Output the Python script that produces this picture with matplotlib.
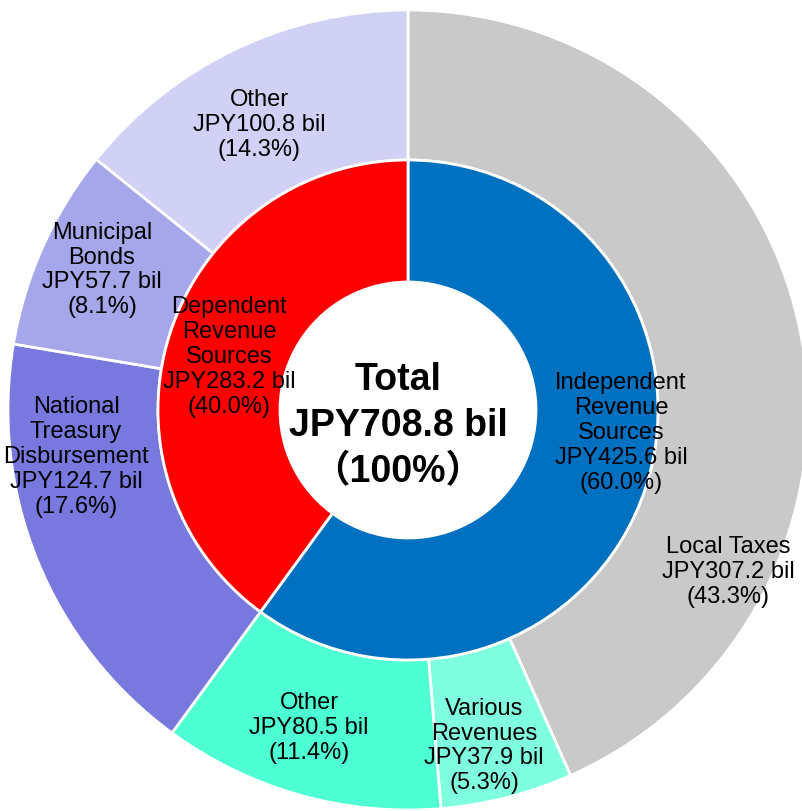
import matplotlib
matplotlib.use("Agg")
import matplotlib.pyplot as plt

# outer ring (clockwise from 12 o'clock)
outer_names = ["Local Taxes", "Various\nRevenues", "Other", "National\nTreasury\nDisbursement",
               "Municipal\nBonds", "Other"]
outer_values = [307.2, 37.9, 80.5, 124.7, 57.7, 100.8]
outer_pcts = [43.3, 5.3, 11.4, 17.6, 8.1, 14.3]
outer_colors = ["#C9C9C9", "#80FFE0", "#4DFFD2", "#7878DE", "#A6A6EA", "#D1D1F5"]

# inner ring
inner_names = ["Independent\nRevenue\nSources", "Dependent\nRevenue\nSources"]
inner_values = [425.6, 283.2]
inner_pcts = [60.0, 40.0]
inner_colors = ["#0070C0", "#FF0000"]

total_value = 708.8

# label positions (fraction of outer radius, relative to centre)
outer_label_pos = [(0.80, -0.405), (0.19, -0.84), (-0.2475, -0.795), (-0.83, -0.1175),
                   (-0.765, 0.35), (-0.3725, 0.7125)]
inner_label_pos = [(0.5325, -0.0575), (-0.4475, 0.1325)]

fig = plt.figure(figsize=(8.02, 8.11), dpi=100)
ax = fig.add_axes([0, 0, 1, 1])

ax.pie(outer_values, radius=1.0, startangle=90, counterclock=False, colors=outer_colors,
       wedgeprops=dict(width=0.375, edgecolor="white", linewidth=2))
ax.pie(inner_values, radius=0.625, startangle=90, counterclock=False, colors=inner_colors,
       wedgeprops=dict(width=0.305, edgecolor="white", linewidth=2))

lab_font = ["Liberation Sans", "DejaVu Sans"]
for name, val, pct, (x, y) in zip(outer_names, outer_values, outer_pcts, outer_label_pos):
    ax.text(x, y, f"{name}\nJPY{val} bil\n({pct}%)", ha="center", va="center",
            fontsize=17, family=lab_font, linespacing=1.17, color="black")
for name, val, pct, (x, y) in zip(inner_names, inner_values, inner_pcts, inner_label_pos):
    ax.text(x, y, f"{name}\nJPY{val} bil\n({pct}%)", ha="center", va="center",
            fontsize=17, family=lab_font, linespacing=1.17, color="black")

ax.text(-0.025, -0.04, f"Total\nJPY{total_value} bil\n（100%）", ha="center", va="center",
        fontsize=27, fontweight="bold", family=["Liberation Sans", "Noto Sans CJK JP"],
        linespacing=1.36)

ax.set_xlim(-408 / 400, 394 / 400)
ax.set_ylim(-401 / 400, 410 / 400)
ax.set_aspect("equal")
ax.axis("off")

fig.savefig("out.png", dpi=100, facecolor="white")
